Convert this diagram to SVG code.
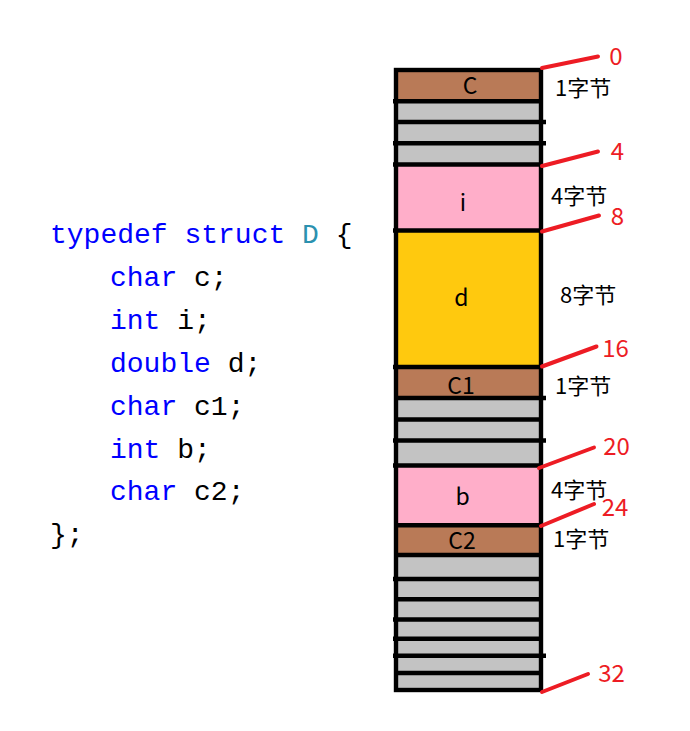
<svg xmlns="http://www.w3.org/2000/svg" width="690" height="731" viewBox="0 0 690 731">
<style>
.code{font-family:"Liberation Mono","DejaVu Sans Mono",monospace;font-size:28px;fill:#000}
.kw{fill:#0000ff}
.cls{fill:#2b91af}
.lbl{font-family:"Noto Sans CJK SC","Noto Sans",sans-serif;font-size:22px;fill:#000}
.cell{font-family:"Noto Sans CJK SC","Noto Sans",sans-serif;font-size:23px;fill:#000;text-anchor:middle}
.num{font-family:"Noto Sans CJK SC","Noto Sans",sans-serif;font-size:24px;fill:#ed1c24;text-anchor:middle}
.sep{stroke:#000;stroke-width:4.4;fill:none}
.red{stroke:#ed1c24;stroke-width:4;stroke-linecap:round;fill:none}
.brown{fill:#b97a57}
.gray{fill:#c3c3c3}
.pink{fill:#ffaec9}
.gold{fill:#ffc90e}
</style>
<rect width="690" height="731" fill="#fff"/>
<g id="code">
<text class="code" x="50" y="243"><tspan class="kw">typedef</tspan> <tspan class="kw">struct</tspan> <tspan class="cls">D</tspan> {</text>
<text class="code" x="110" y="286"><tspan class="kw">char</tspan> c;</text>
<text class="code" x="110" y="329"><tspan class="kw">int</tspan> i;</text>
<text class="code" x="110" y="372"><tspan class="kw">double</tspan> d;</text>
<text class="code" x="110" y="415"><tspan class="kw">char</tspan> c1;</text>
<text class="code" x="110" y="458"><tspan class="kw">int</tspan> b;</text>
<text class="code" x="110" y="500"><tspan class="kw">char</tspan> c2;</text>
<text class="code" x="50" y="543">};</text>
</g>
<g id="cell-c"><rect class="brown" x="396" y="70" width="145" height="31.3"/><text class="cell" x="470" y="94">C</text></g>
<g id="pad-1"><rect class="gray" x="396" y="101.3" width="145" height="63.2"/></g>
<g id="cell-i"><rect class="pink" x="396" y="164.5" width="145" height="66"/><text class="cell" x="463" y="211">i</text></g>
<g id="cell-d"><rect class="gold" x="396" y="230.5" width="145" height="136.5"/><text class="cell" x="461.5" y="306">d</text></g>
<g id="cell-c1"><rect class="brown" x="396" y="367" width="145" height="31"/><text class="cell" x="461" y="394">C1</text></g>
<g id="pad-2"><rect class="gray" x="396" y="398" width="145" height="67.5"/></g>
<g id="cell-b"><rect class="pink" x="396" y="465.5" width="145" height="59.8"/><text class="cell" x="462.5" y="505">b</text></g>
<g id="cell-c2"><rect class="brown" x="396" y="525.3" width="145" height="29.7"/><text class="cell" x="462" y="549">C2</text></g>
<g id="pad-3"><rect class="gray" x="396" y="555" width="145" height="135"/></g>
<g id="grid">
<rect class="sep" x="396" y="70" width="145" height="620" stroke-width="4.8"/>
<line class="sep" x1="393" y1="101.3" x2="541" y2="101.3"/>
<line class="sep" x1="396" y1="122" x2="546" y2="122"/>
<line class="sep" x1="393" y1="143.3" x2="546" y2="143.3"/>
<line class="sep" x1="393" y1="164.5" x2="541" y2="164.5"/>
<line class="sep" x1="393" y1="230.5" x2="541" y2="230.5"/>
<line class="sep" x1="393" y1="367" x2="541" y2="367"/>
<line class="sep" x1="396" y1="398" x2="546" y2="398"/>
<line class="sep" x1="396" y1="419.5" x2="543" y2="419.5"/>
<line class="sep" x1="393" y1="440.5" x2="546" y2="440.5"/>
<line class="sep" x1="393" y1="465.5" x2="541" y2="465.5"/>
<line class="sep" x1="396" y1="525.3" x2="541" y2="525.3"/>
<line class="sep" x1="396" y1="555" x2="541" y2="555"/>
<line class="sep" x1="393" y1="579" x2="541" y2="579"/>
<line class="sep" x1="396" y1="599.3" x2="541" y2="599.3"/>
<line class="sep" x1="393" y1="619.5" x2="541" y2="619.5"/>
<line class="sep" x1="393" y1="638.7" x2="541" y2="638.7"/>
<line class="sep" x1="393" y1="655.7" x2="546" y2="655.7"/>
<line class="sep" x1="396" y1="673" x2="541" y2="673"/>
</g>
<g id="sizes">
<text class="lbl" x="555" y="96">1字节</text>
<text class="lbl" x="551" y="204">4字节</text>
<text class="lbl" x="560" y="303">8字节</text>
<text class="lbl" x="555" y="394">1字节</text>
<text class="lbl" x="551" y="498">4字节</text>
<text class="lbl" x="553" y="547">1字节</text>
</g>
<g id="connectors">
<line class="red" x1="542" y1="68" x2="598" y2="56.5"/>
<line class="red" x1="542" y1="166" x2="598" y2="151.5"/>
<line class="red" x1="542" y1="231.5" x2="599" y2="215.5"/>
<line class="red" x1="542" y1="366.5" x2="596.5" y2="346.5"/>
<line class="red" x1="539" y1="468" x2="594" y2="447.5"/>
<line class="red" x1="541" y1="526" x2="594" y2="504"/>
<line class="red" x1="542" y1="692" x2="588" y2="674"/>
</g>
<g id="offsets">
<text class="num" x="616" y="65">0</text>
<text class="num" x="617.5" y="160">4</text>
<text class="num" x="617.5" y="225">8</text>
<text class="num" x="615.5" y="357">16</text>
<text class="num" x="616.5" y="455">20</text>
<text class="num" x="615" y="516">24</text>
<text class="num" x="611.5" y="682">32</text>
</g>
</svg>
